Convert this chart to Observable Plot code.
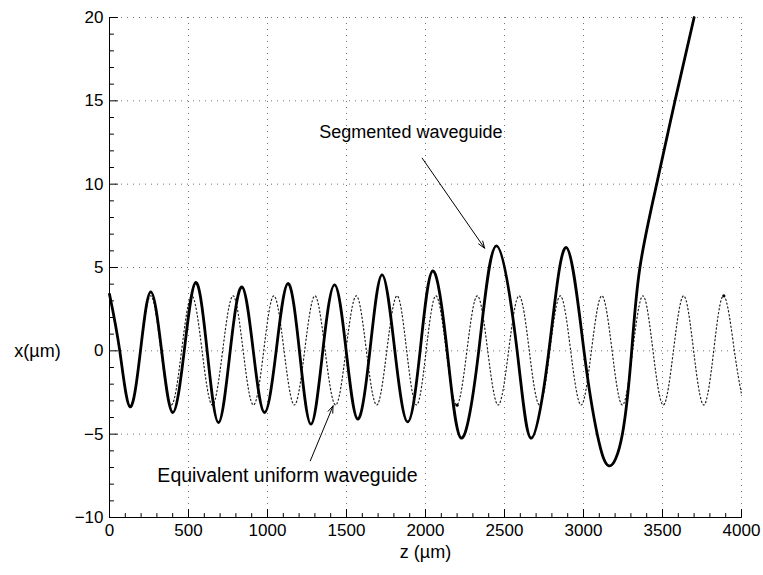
<!DOCTYPE html>
<html>
<head>
<meta charset="utf-8">
<script src="https://cdn.jsdelivr.net/npm/d3@7"></script>
<script src="https://cdn.jsdelivr.net/npm/@observablehq/plot@0.6"></script>
<style>
  html, body { margin: 0; padding: 0; background: #fff; }
  #chart svg { font-family: "Liberation Sans", Arial, Helvetica, sans-serif; }
</style>
</head>
<body>
<div id="chart"></div>
<script>
// Segmented waveguide (solid), z in µm, x in µm
const segZ = [0, 65, 130, 196, 261, 330, 400, 473, 546, 618, 690, 764, 838, 910, 981, 1055, 1129, 1202, 1275, 1350, 1425, 1498, 1571, 1648, 1725, 1806, 1887, 1966, 2046, 2137, 2226, 2337, 2449, 2580, 2669, 2781, 2891, 3003, 3087, 3161, 3246, 3305, 3357, 3463, 3579, 3700];
const segX = [3.4, 0, -3.36, 0, 3.54, 0, -3.7, 0, 4.1, 0, -4.3, 0, 3.84, 0, -3.7, 0, 4.04, 0, -4.4, 0, 3.96, 0, -4.1, 0, 4.56, 0, -4.26, 0, 4.8, 0, -5.24, 0, 6.3, 0, -5.24, 0, 6.2, 0, -5, -6.9, -5, 0, 5, 10, 15, 20];

// Equivalent uniform waveguide (dotted)
const uniZ = [0, 65, 130, 196, 261, 326, 391, 456, 521, 586, 651, 716, 782, 846, 911, 976, 1040, 1105, 1170, 1235, 1300, 1365, 1431, 1496, 1562, 1626, 1691, 1755, 1820, 1881, 1943, 2004, 2066, 2131, 2197, 2262, 2328, 2394, 2460, 2526, 2592, 2657, 2722, 2787, 2853, 2919, 2985, 3050, 3116, 3181, 3246, 3311, 3376, 3440, 3505, 3569, 3634, 3697, 3761, 3824, 3888, 3955, 4000];
const uniX = [3.4, 0, -3.3, 0, 3.3, 0, -3.25, 0, 3.3, 0, -3.25, 0, 3.3, 0, -3.25, 0, 3.3, 0, -3.25, 0, 3.3, 0, -3.25, 0, 3.3, 0, -3.25, 0, 3.3, 0, -3.25, 0, 3.3, 0, -3.25, 0, 3.3, 0, -3.25, 0, 3.3, 0, -3.25, 0, 3.3, 0, -3.25, 0, 3.3, 0, -3.25, 0, 3.3, 0, -3.25, 0, 3.3, 0, -3.25, 0, 3.3, 0, -2.6];

// small marker dots on the dotted curve
const dotZ = [2200, 3888];
const dotX = [-3.26, 3.3];

// ticks
const xTicks = [0, 500, 1000, 1500, 2000, 2500, 3000, 3500, 4000];
const yTicks = [-10, -5, 0, 5, 10, 15, 20];
const xMinor = d3.range(0, 4001, 100).filter(v => v % 500 !== 0);
const yMinor = d3.range(-10, 21, 1).filter(v => v % 5 !== 0);

const seg = segZ.map((z, i) => ({z, x: segX[i]}));
const uni = uniZ.map((z, i) => ({z, x: uniX[i]}));
const dots = dotZ.map((z, i) => ({z, x: dotX[i]}));

const tickShape = {draw(context, l) { context.moveTo(0, 0); context.lineTo(0, -l); }};

const chart = Plot.plot({
  width: 763,
  height: 575,
  marginLeft: 109,
  marginRight: 22,
  marginTop: 17,
  marginBottom: 58,
  style: {fontFamily: '"Liberation Sans", Arial, Helvetica, sans-serif', background: "#fff", color: "#000"},
  x: {domain: [0, 4000]},
  y: {domain: [-10, 20]},
  marks: [
    Plot.gridX(xTicks, {stroke: "#000", strokeOpacity: 0.55, strokeDasharray: "1,5"}),
    Plot.gridY(yTicks, {stroke: "#000", strokeOpacity: 0.55, strokeDasharray: "1,5"}),
    Plot.line(uni, {x: "z", y: "x", curve: "natural", stroke: "#222", strokeWidth: 1.2, strokeDasharray: "1.3,2.6"}),
    Plot.line(seg, {x: "z", y: "x", curve: "natural", stroke: "#000", strokeWidth: 2.8}),
    Plot.dot(dots, {x: "z", y: "x", r: 1.6, fill: "#000", stroke: null}),
    Plot.ruleX([0], {stroke: "#000", strokeWidth: 1}),
    Plot.ruleY([-10], {stroke: "#000", strokeWidth: 1}),
    Plot.vector(xTicks, {x: d => d, frameAnchor: "bottom", length: 8, rotate: 0, anchor: "start", shape: tickShape, stroke: "#000", strokeWidth: 1}),
    Plot.vector(xMinor, {x: d => d, frameAnchor: "bottom", length: 4, rotate: 0, anchor: "start", shape: tickShape, stroke: "#000", strokeWidth: 1}),
    Plot.vector(yTicks, {y: d => d, frameAnchor: "left", length: 8, rotate: 90, anchor: "start", shape: tickShape, stroke: "#000", strokeWidth: 1}),
    Plot.vector(yMinor, {y: d => d, frameAnchor: "left", length: 4, rotate: 90, anchor: "start", shape: tickShape, stroke: "#000", strokeWidth: 1}),
    Plot.axisX(xTicks, {tickSize: 0, tickPadding: 6, tickFormat: d3.format("d"), fontSize: 17, label: null}),
    Plot.axisY(yTicks, {tickSize: 0, tickPadding: 6, tickFormat: d3.format("d"), fontSize: 17, label: null}),
    Plot.text(["z (µm)"], {text: d => d, frameAnchor: "bottom", dy: 40, fontSize: 18}),
    Plot.text([0], {y: d => d, text: () => "x(µm)", frameAnchor: "left", dx: -72, textAnchor: "middle", fontSize: 18}),
    Plot.arrow([0], {x1: 1979, y1: 11.56, x2: 2374, y2: 6.16, stroke: "#000", strokeWidth: 1, headLength: 11, headAngle: 40}),
    Plot.arrow([0], {x1: 1271, y1: -6.6, x2: 1415, y2: -3.3, stroke: "#000", strokeWidth: 1, headLength: 11, headAngle: 40}),
    Plot.text(["Segmented waveguide"], {x: 1328, y: 13.14, text: d => d, textAnchor: "start", fontSize: 18}),
    Plot.text(["Equivalent uniform waveguide"], {x: 303, y: -7.47, text: d => d, textAnchor: "start", fontSize: 19.5})
  ]
});
document.getElementById("chart").appendChild(chart);
</script>
</body>
</html>
